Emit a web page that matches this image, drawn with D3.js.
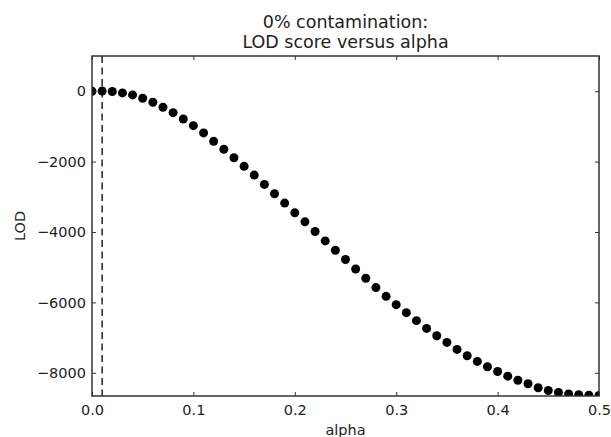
<!DOCTYPE html>
<html>
<head>
<meta charset="utf-8">
<script src="https://cdn.jsdelivr.net/npm/d3@7"></script>
<style>
  body { margin: 0; background: #fff; }
  .axis text { font-family: "DejaVu Sans", sans-serif; font-size: 14.5px; fill: #222; }
  .axis path, .axis line { stroke: #333; }
  .title, .label { font-family: "DejaVu Sans", sans-serif; fill: #222; }
</style>
</head>
<body>
<div id="chart"></div>
<script>
// alpha values on the x axis
const alphaValues = [0.00, 0.01, 0.02, 0.03, 0.04, 0.05, 0.06, 0.07, 0.08, 0.09,
    0.10, 0.11, 0.12, 0.13, 0.14, 0.15, 0.16, 0.17, 0.18, 0.19,
    0.20, 0.21, 0.22, 0.23, 0.24, 0.25, 0.26, 0.27, 0.28, 0.29,
    0.30, 0.31, 0.32, 0.33, 0.34, 0.35, 0.36, 0.37, 0.38, 0.39,
    0.40, 0.41, 0.42, 0.43, 0.44, 0.45, 0.46, 0.47, 0.48, 0.49, 0.50];

// LOD score
const lodValues = [0, 5, -10, -48, -105, -200, -313, -455, -609, -789,
    -979, -1185, -1424, -1651, -1890, -2135, -2383, -2648, -2915, -3180,
    -3456, -3712, -3986, -4253, -4518, -4783, -5051, -5315, -5580, -5828,
    -6064, -6292, -6520, -6739, -6947, -7138, -7337, -7516, -7678, -7829,
    -7963, -8097, -8211, -8313, -8427, -8504, -8560, -8600, -8625, -8640, -8645];

const xTicks = [0, 0.1, 0.2, 0.3, 0.4, 0.5];
const yTicks = [0, -2000, -4000, -6000, -8000];
const cutoffAlpha = 0.01;

const margin = {top: 56, right: 12, bottom: 41, left: 92};
const width = 611 - margin.left - margin.right;
const height = 437 - margin.top - margin.bottom;

const svg = d3.select("#chart").append("svg")
    .attr("width", 611)
    .attr("height", 437)
    .append("g")
    .attr("transform", `translate(${margin.left}, ${margin.top})`);

const xScale = d3.scaleLinear().domain([0, 0.5]).range([0, width]);
const yScale = d3.scaleLinear().domain([-8660, 1000]).range([height, 0]);

// clip marks to the axes box
svg.append("clipPath").attr("id", "plot-clip")
    .append("rect").attr("width", width).attr("height", height);

const plot = svg.append("g").attr("clip-path", "url(#plot-clip)");

// dashed vertical line
plot.append("line")
    .attr("x1", xScale(cutoffAlpha)).attr("x2", xScale(cutoffAlpha))
    .attr("y1", 0).attr("y2", height)
    .attr("stroke", "#222")
    .attr("stroke-width", 1.5)
    .attr("stroke-dasharray", "7,4.5");

// points
plot.selectAll(".dot")
    .data(alphaValues.map((a, i) => ({alpha: a, lod: lodValues[i]})))
    .join("circle")
    .attr("class", "dot")
    .attr("cx", d => xScale(d.alpha))
    .attr("cy", d => yScale(d.lod))
    .attr("r", 4.5)
    .attr("fill", "#000");

// axes, ticks pointing inward on all four sides
svg.append("g").attr("class", "axis")
    .attr("transform", `translate(0, ${height})`)
    .call(d3.axisBottom(xScale).tickValues(xTicks).tickFormat(d3.format(".1f")).tickSize(-4).tickPadding(9))
    .call(g => g.select(".domain").remove());
svg.append("g").attr("class", "axis")
    .call(d3.axisTop(xScale).tickValues(xTicks).tickFormat("").tickSize(-4))
    .call(g => g.select(".domain").remove());
svg.append("g").attr("class", "axis")
    .call(d3.axisLeft(yScale).tickValues(yTicks).tickFormat(d3.format("d")).tickSize(-4).tickPadding(6))
    .call(g => g.select(".domain").remove());
svg.append("g").attr("class", "axis")
    .attr("transform", `translate(${width}, 0)`)
    .call(d3.axisRight(yScale).tickValues(yTicks).tickFormat("").tickSize(-4))
    .call(g => g.select(".domain").remove());

// frame
svg.append("rect")
    .attr("width", width).attr("height", height)
    .attr("fill", "none")
    .attr("stroke", "#333")
    .attr("stroke-width", 1.5);

// title
svg.append("text").attr("class", "title")
    .attr("x", width / 2).attr("y", -28)
    .attr("text-anchor", "middle").attr("font-size", 17.5)
    .text("0% contamination:");
svg.append("text").attr("class", "title")
    .attr("x", width / 2).attr("y", -8)
    .attr("text-anchor", "middle").attr("font-size", 17.5)
    .text("LOD score versus alpha");

// axis labels
svg.append("text").attr("class", "label")
    .attr("x", width / 2).attr("y", height + 39)
    .attr("text-anchor", "middle").attr("font-size", 14.5)
    .text("alpha");
svg.append("text").attr("class", "label")
    .attr("transform", `translate(${-67}, ${height / 2}) rotate(-90)`)
    .attr("text-anchor", "middle").attr("font-size", 14.5)
    .text("LOD");
</script>
</body>
</html>
